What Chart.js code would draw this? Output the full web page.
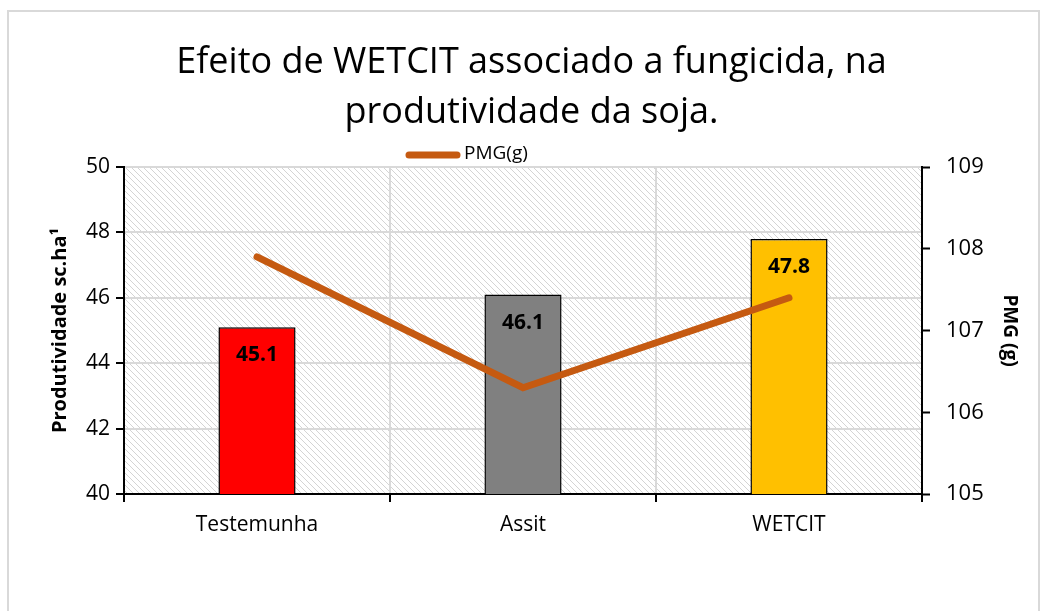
<!DOCTYPE html>
<html>
<head>
<meta charset="utf-8">
<script src="https://cdn.jsdelivr.net/npm/chart.js@4.4.1/dist/chart.umd.min.js"></script>
<style>
  body { margin: 0; background: #fff; }
  #wrap { width: 1043px; height: 611px; }
</style>
</head>
<body>
<div id="wrap"><canvas id="myChart" width="1043" height="611"></canvas></div>
<script>
// dados
const categorias = ["Testemunha", "Assit", "WETCIT"];
const produtividade = [45.1, 46.1, 47.8];
const pmg = [107.9, 106.3, 107.4];
const coresBarras = ["#FF0000", "#808080", "#FFC000"];
const corLinha = "#C55A11";

const fonte = '"Open Sans", "Liberation Sans", sans-serif';

// fundo hachurado + moldura
function makeHatch() {
    let c = document.createElement("canvas");
    c.width = 6; c.height = 6;
    let g = c.getContext("2d");
    g.strokeStyle = "#d4d4d4";
    g.lineWidth = 1;
    g.beginPath();
    g.moveTo(0, 0); g.lineTo(6, 6);
    g.moveTo(-3, 3); g.lineTo(3, 9);
    g.moveTo(3, -3); g.lineTo(9, 3);
    g.stroke();
    return c;
}

const fundoPlugin = {
    id: "fundo",
    beforeDraw(chart) {
        const ctx = chart.ctx;
        const a = chart.chartArea;
        ctx.save();
        ctx.fillStyle = "#fff";
        ctx.fillRect(0, 0, chart.width, chart.height);
        ctx.strokeStyle = "#d9d9d9";
        ctx.lineWidth = 2;
        ctx.strokeRect(8, 11, chart.width - 12, chart.height);
        ctx.fillStyle = ctx.createPattern(makeHatch(), "repeat");
        ctx.fillRect(a.left, a.top, a.right - a.left, a.bottom - a.top);
        ctx.restore();
    }
};

// rotulos das barras
const rotulosPlugin = {
    id: "rotulos",
    afterDatasetsDraw(chart) {
        const ctx = chart.ctx;
        const meta = chart.getDatasetMeta(0);
        ctx.save();
        ctx.fillStyle = "#000";
        ctx.font = "bold 21px " + fonte;
        ctx.textAlign = "center";
        ctx.textBaseline = "middle";
        meta.data.forEach((bar, i) => {
            ctx.fillText(produtividade[i].toFixed(1), bar.x, bar.y + 28);
        });
        ctx.restore();
    }
};

// legenda (so a linha), um pouco a esquerda do centro como no original
const legendaPlugin = {
    id: "legenda",
    afterDraw(chart) {
        const ctx = chart.ctx;
        const ds = chart.data.datasets[1];
        const y = 155;
        ctx.save();
        ctx.strokeStyle = ds.borderColor;
        ctx.lineWidth = 7;
        ctx.lineCap = "round";
        ctx.beginPath();
        ctx.moveTo(409, y);
        ctx.lineTo(457, y);
        ctx.stroke();
        ctx.fillStyle = "#000";
        ctx.font = "19px " + fonte;
        ctx.textBaseline = "middle";
        ctx.fillText(ds.label, 464, y - 1);
        ctx.restore();
    }
};

const canvas = document.getElementById("myChart");

new Chart(canvas, {
    type: "bar",
    data: {
        labels: categorias,
        datasets: [
            {
                label: "Produtividade",
                data: produtividade,
                backgroundColor: coresBarras,
                borderColor: "#000",
                borderWidth: 1.5,
                categoryPercentage: 1,
                barPercentage: 0.29,
                yAxisID: "y",
                order: 1
            },
            {
                type: "line",
                label: "PMG(g)",
                data: pmg,
                borderColor: corLinha,
                backgroundColor: corLinha,
                borderWidth: 7,
                borderCapStyle: "round",
                pointRadius: 0,
                tension: 0,
                yAxisID: "y1",
                order: 0
            }
        ]
    },
    options: {
        responsive: false,
        animation: false,
        layout: { padding: { left: 20, right: 0, top: 0, bottom: 0 } },
        plugins: {
            title: {
                display: true,
                text: ["Efeito de WETCIT associado a fungicida, na", "produtividade da soja."],
                color: "#000",
                font: { family: fonte, size: 36, weight: "normal", lineHeight: 50 / 36 },
                padding: { top: 38, bottom: 29 }
            },
            legend: { display: false },
            tooltip: { enabled: false }
        },
        scales: {
            x: {
                grid: {
                    offset: true,
                    color: "#d9d9d9",
                    lineWidth: 2,
                    tickColor: "#000",
                    tickLength: 8,
                    tickWidth: 2
                },
                border: { color: "#000", width: 2 },
                ticks: { color: "#000", font: { family: fonte, size: 21 }, padding: 10 },
                afterFit(scale) { scale.height = 117; }
            },
            y: {
                position: "left",
                min: 40, max: 50,
                ticks: { stepSize: 2, color: "#000", font: { family: fonte, size: 21 }, padding: 6 },
                grid: { color: "#d9d9d9", lineWidth: 2, tickColor: "#000", tickLength: 8, tickWidth: 2 },
                border: { color: "#000", width: 2 },
                title: {
                    display: true,
                    text: "Produtividade sc.ha¹",
                    color: "#000",
                    font: { family: fonte, size: 20, weight: "bold" },
                    padding: { top: 28, bottom: 0 }
                },
                afterFit(scale) { scale.width = 104; }
            },
            y1: {
                position: "right",
                min: 105, max: 109,
                ticks: { stepSize: 1, color: "#000", font: { family: fonte, size: 22 }, padding: 16 },
                grid: { drawOnChartArea: false, tickColor: "#000", tickLength: 8, tickWidth: 2 },
                border: { color: "#000", width: 2 },
                title: {
                    display: true,
                    text: "PMG (g)",
                    color: "#000",
                    font: { family: fonte, size: 19, weight: "bold" },
                    padding: { top: 22, bottom: 0 }
                },
                afterFit(scale) { scale.width = 121; }
            }
        }
    },
    plugins: [fundoPlugin, rotulosPlugin, legendaPlugin]
});
</script>
</body>
</html>
